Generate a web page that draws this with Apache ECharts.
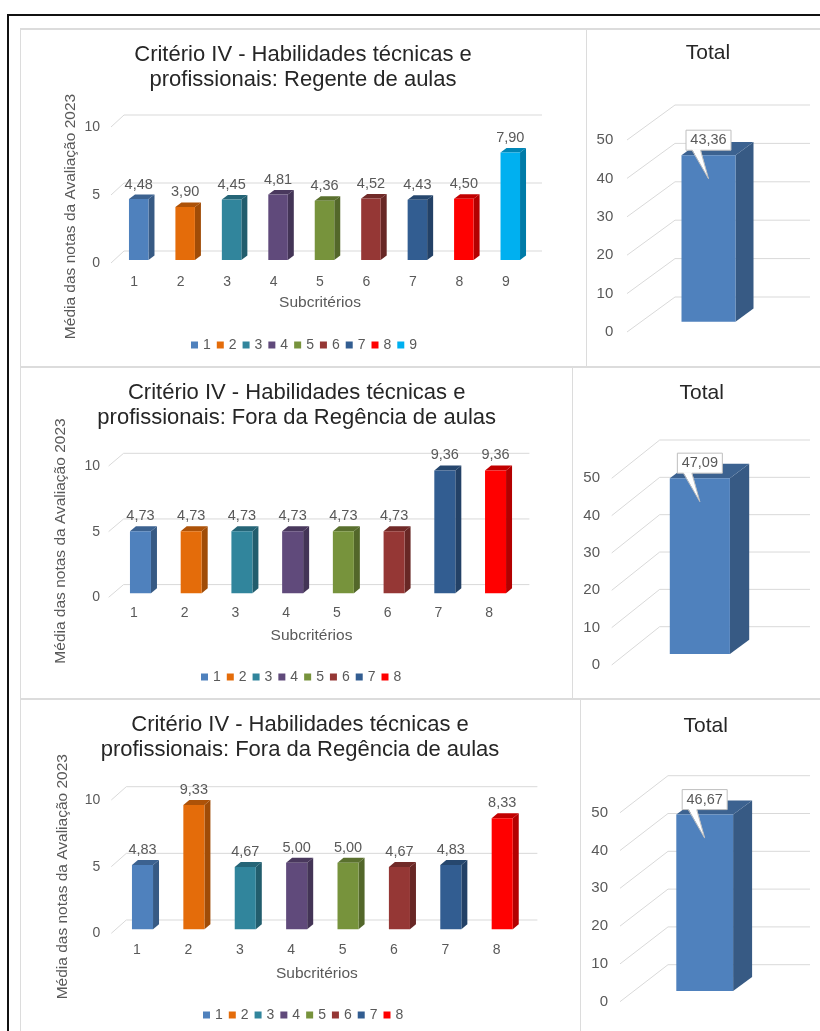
<!DOCTYPE html>
<html>
<head>
<meta charset="utf-8">
<script src="https://cdn.jsdelivr.net/npm/echarts@6/dist/echarts.min.js"></script>
<style>
html,body{margin:0;padding:0;background:#fff;}
#wrap{position:relative;width:820px;height:1031px;overflow:hidden;background:#fff;}
.ln{position:absolute;background:#dcdcdc;}
.blk{position:absolute;background:#111;}
#chart{position:absolute;left:0;top:0;width:820px;height:1031px;}
</style>
</head>
<body>
<div id="wrap">
  <div class="blk" style="left:7px;top:14px;width:813px;height:2px"></div>
  <div class="blk" style="left:7px;top:14px;width:2px;height:1017px"></div>
  <div class="ln" style="left:20px;top:28px;width:800px;height:2px"></div>
  <div class="ln" style="left:20px;top:28px;width:1px;height:1003px"></div>
  <div class="ln" style="left:20px;top:366px;width:800px;height:2px"></div>
  <div class="ln" style="left:20px;top:698px;width:800px;height:2px"></div>
  <div class="ln" style="left:586px;top:28px;width:1px;height:339px"></div>
  <div class="ln" style="left:572px;top:367px;width:1px;height:332px"></div>
  <div class="ln" style="left:580px;top:699px;width:1px;height:332px"></div>
  <div id="chart"></div>
</div>
<script>
// ---------- DATA ----------
const titleRegente = 'Critério IV - Habilidades técnicas e\nprofissionais: Regente de aulas';
const titleFora = 'Critério IV - Habilidades técnicas e\nprofissionais: Fora da Regência de aulas';
const titleTotal = 'Total';
const xAxisName = 'Subcritérios';
const yAxisName = 'Média das notas da Avaliação 2023';

const cats1 = ['1', '2', '3', '4', '5', '6', '7', '8', '9'];
const vals1 = [4.48, 3.90, 4.45, 4.81, 4.36, 4.52, 4.43, 4.50, 7.90];
const cats2 = ['1', '2', '3', '4', '5', '6', '7', '8'];
const vals2 = [4.73, 4.73, 4.73, 4.73, 4.73, 4.73, 9.36, 9.36];
const cats3 = ['1', '2', '3', '4', '5', '6', '7', '8'];
const vals3 = [4.83, 9.33, 4.67, 5.00, 5.00, 4.67, 4.83, 8.33];
const totalCats = ['Total'];
const totals = [43.36, 47.09, 46.67];

const subTicks = [0, 5, 10];
const totalTicks = [0, 10, 20, 30, 40, 50];

// ---------- STYLE / LAYOUT ----------
const FONT = '"Liberation Sans", Arial, Helvetica, sans-serif';
const GRAY = '#595959';
const GRID = '#d9d9d9';
const pointColors = ['#4F81BD', '#E46C0A', '#31859C', '#604A7B', '#77933C', '#953735', '#325D91', '#FF0000', '#00B0F0'];
const totalColor = '#4F81BD';

const leftLayouts = [
  {gl: 111, gr: 529, gt: 127, gb: 263, ym: 11, xm: 12, wall: [13, -12], off: [4.5, -3], bw: 0.42, dep: [6, -4.5],
   title: [303, 55], yname: [71, 216.5], xgap: 32, legend: [191, 338]},
  {gl: 108.6, gr: 514.4, gt: 466, gb: 597.3, ym: 8.5, xm: 9, wall: [15, -12.7], off: [6.5, -4], bw: 0.414, dep: [6, -5],
   title: [296.7, 393.3], yname: [61.2, 541], xgap: 30.7, legend: [201, 670]},
  {gl: 111.3, gr: 522.4, gt: 800, gb: 933.3, ym: 11, xm: 9.7, wall: [15, -13.3], off: [5.5, -4], bw: 0.41, dep: [6, -5],
   title: [300, 725], yname: [63, 876.7], xgap: 32, legend: [203, 1008]}
];
const totLayouts = [
  {gl: 627, gr: 762, gt: 140, gb: 332, ym: 13.7, wall: [48, -35], off: [14, -10.3], bw: 0.4, dep: [18, -13.3], title: [708, 53]},
  {gl: 611.7, gr: 762, gt: 478.3, gb: 665, ym: 11.7, wall: [48, -38.3], off: [13, -11], bw: 0.4, dep: [19.3, -14.3], title: [701.7, 393.3]},
  {gl: 620, gr: 762, gt: 812.7, gb: 1001.7, ym: 12, wall: [48, -37], off: [13.7, -10.7], bw: 0.4, dep: [19, -14], title: [705.7, 726]}
];

function shade(hex, f) {
  const n = parseInt(hex.slice(1), 16);
  const r = Math.round(((n >> 16) & 255) * f), g = Math.round(((n >> 8) & 255) * f), b = Math.round((n & 255) * f);
  return 'rgb(' + r + ',' + g + ',' + b + ')';
}
function fmt(v) { return v.toFixed(2).replace('.', ','); }

function wallRender(L, nCats) {
  return function (params, api) {
    const t = api.value(1);
    const band = api.size([1, 0])[0];
    const a = api.coord([0, t]);
    const b = api.coord([nCats - 1, t]);
    const x0 = a[0] - band / 2, x1 = b[0] + band / 2, y = a[1];
    return {
      type: 'polyline',
      shape: {points: [[x0, y], [x0 + L.wall[0], y + L.wall[1]], [x1 + L.wall[0], y + L.wall[1]]]},
      style: {stroke: GRID, lineWidth: 1, fill: null}
    };
  };
}

function barRender(L, color, callout) {
  return function (params, api) {
    const xi = api.value(0), v = api.value(1);
    const top = api.coord([xi, v]), base = api.coord([xi, 0]);
    const band = api.size([1, 0])[0];
    const w = band * L.bw;
    const x = top[0] + L.off[0] - w / 2;
    const yT = top[1] + L.off[1], yB = base[1] + L.off[1];
    const dx = L.dep[0], dy = L.dep[1];
    const cx = x + w / 2;
    const children = [
      {type: 'polygon', shape: {points: [[x + w, yT], [x + w + dx, yT + dy], [x + w + dx, yB + dy], [x + w, yB]]},
       style: {fill: shade(color, 0.7)}},
      {type: 'polygon', shape: {points: [[x, yT], [x + dx, yT + dy], [x + w + dx, yT + dy], [x + w, yT]]},
       style: {fill: shade(color, 0.76)}},
      {type: 'rect', shape: {x: x, y: yT, width: w, height: yB - yT}, style: {fill: color}}
    ];
    if (!callout) {
      children.push({type: 'text', style: {text: fmt(v), x: cx, y: yT + dy - 10, align: 'center', verticalAlign: 'middle',
        fill: GRAY, fontSize: 14.5, fontFamily: FONT}});
    } else {
      const bwid = 45, bh = 20;
      const bcy = yT - 15;
      const bx = cx - bwid / 2, by = bcy - bh / 2;
      const tip = [cx, yT + 23.5];
      children.push({type: 'rect', shape: {x: bx, y: by, width: bwid, height: bh},
        style: {fill: '#fff', stroke: '#bfbfbf', lineWidth: 1}});
      children.push({type: 'polygon', shape: {points: [[cx - 16.5, by + bh - 1], tip, [cx - 8, by + bh - 1]]},
        style: {fill: '#fff'}});
      children.push({type: 'polyline', shape: {points: [[cx - 16.5, by + bh], tip, [cx - 8, by + bh]]},
        style: {stroke: '#bfbfbf', lineWidth: 1, fill: null}});
      children.push({type: 'text', style: {text: fmt(v), x: cx, y: bcy, align: 'center', verticalAlign: 'middle',
        fill: GRAY, fontSize: 14.5, fontFamily: FONT}});
    }
    return {type: 'group', children: children};
  };
}

const option = {
  animation: false,
  backgroundColor: 'transparent',
  textStyle: {fontFamily: FONT},
  title: [], grid: [], xAxis: [], yAxis: [], series: [], legend: [], graphic: []
};

const leftSets = [
  {title: titleRegente, cats: cats1, vals: vals1},
  {title: titleFora, cats: cats2, vals: vals2},
  {title: titleFora, cats: cats3, vals: vals3}
];

leftSets.forEach(function (S, r) {
  const L = leftLayouts[r];
  const gi = option.grid.length;
  option.title.push({text: S.title, left: L.title[0], top: L.title[1] - 12.5, textAlign: 'center', padding: 0,
    textStyle: {fontSize: 22, lineHeight: 25, color: '#262626', fontWeight: 'normal', fontFamily: FONT}});
  option.grid.push({left: L.gl, top: L.gt, width: L.gr - L.gl, height: L.gb - L.gt, containLabel: false, outerBoundsMode: 'none'});
  option.xAxis.push({type: 'category', gridIndex: gi, data: S.cats,
    axisLine: {show: false}, axisTick: {show: false}, splitLine: {show: false},
    axisLabel: {margin: L.xm, fontSize: 14, color: GRAY, fontFamily: FONT},
    name: xAxisName, nameLocation: 'middle', nameGap: L.xgap,
    nameTextStyle: {fontSize: 15.5, color: GRAY, fontFamily: FONT}});
  option.yAxis.push({type: 'value', gridIndex: gi, min: subTicks[0], max: subTicks[subTicks.length - 1],
    interval: subTicks[1] - subTicks[0],
    axisLine: {show: false}, axisTick: {show: false}, splitLine: {show: false},
    axisLabel: {margin: L.ym, fontSize: 14, color: GRAY, fontFamily: FONT}});
  option.series.push({type: 'custom', name: 'grade' + r, xAxisIndex: gi, yAxisIndex: gi, silent: true, z: 1,
    data: subTicks.map(function (t) { return [0, t]; }), renderItem: wallRender(L, S.cats.length)});
  S.cats.forEach(function (c, k) {
    option.series.push({type: 'custom', name: c, xAxisIndex: gi, yAxisIndex: gi, z: 2,
      itemStyle: {color: pointColors[k]},
      data: [[k, S.vals[k]]], renderItem: barRender(L, pointColors[k], false)});
  });
  option.legend.push({data: S.cats, left: L.legend[0], top: L.legend[1], orient: 'horizontal', padding: 0,
    itemWidth: 7, itemHeight: 7, itemGap: 6, icon: 'rect', selectedMode: false,
    textStyle: {fontSize: 14, color: GRAY, fontFamily: FONT}});
  option.graphic.push({type: 'text', x: L.yname[0], y: L.yname[1], rotation: Math.PI / 2, silent: true,
    style: {text: yAxisName, align: 'center', verticalAlign: 'middle', fill: GRAY, fontSize: 15.5, fontFamily: FONT}});
});

totals.forEach(function (tv, r) {
  const L = totLayouts[r];
  const gi = option.grid.length;
  option.title.push({text: titleTotal, left: L.title[0], top: L.title[1] - 12.5, textAlign: 'center', padding: 0,
    textStyle: {fontSize: 21, lineHeight: 25, color: '#262626', fontWeight: 'normal', fontFamily: FONT}});
  option.grid.push({left: L.gl, top: L.gt, width: L.gr - L.gl, height: L.gb - L.gt, containLabel: false, outerBoundsMode: 'none'});
  option.xAxis.push({type: 'category', gridIndex: gi, data: totalCats,
    axisLine: {show: false}, axisTick: {show: false}, splitLine: {show: false}, axisLabel: {show: false}});
  option.yAxis.push({type: 'value', gridIndex: gi, min: totalTicks[0], max: totalTicks[totalTicks.length - 1],
    interval: totalTicks[1] - totalTicks[0],
    axisLine: {show: false}, axisTick: {show: false}, splitLine: {show: false},
    axisLabel: {margin: L.ym, fontSize: 15, color: GRAY, fontFamily: FONT}});
  option.series.push({type: 'custom', name: 'gradeT' + r, xAxisIndex: gi, yAxisIndex: gi, silent: true, z: 1,
    data: totalTicks.map(function (t) { return [0, t]; }), renderItem: wallRender(L, totalCats.length)});
  option.series.push({type: 'custom', name: totalCats[0], xAxisIndex: gi, yAxisIndex: gi, z: 2,
    itemStyle: {color: totalColor},
    data: [[0, tv]], renderItem: barRender(L, totalColor, true)});
});

const chart = echarts.init(document.getElementById('chart'), null, {renderer: 'canvas'});
chart.setOption(option);
</script>
</body>
</html>
